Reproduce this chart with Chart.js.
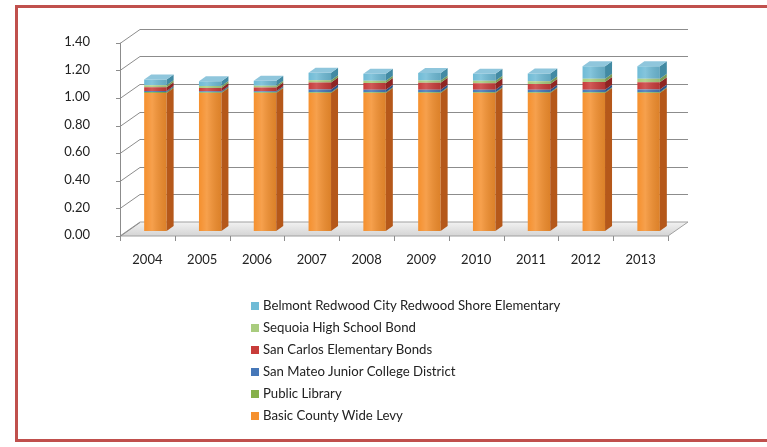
<!DOCTYPE html>
<html>
<head>
<meta charset="utf-8">
<script src="https://cdn.jsdelivr.net/npm/chart.js@4.4.1/dist/chart.umd.min.js"></script>
<style>
  html, body { margin: 0; padding: 0; background: #fff; }
  body { width: 767px; height: 447px; position: relative; overflow: hidden; font-family: Lato, "Liberation Sans", sans-serif; }
  #frame { position: absolute; left: 15px; top: 5px; width: 800px; height: 437px; border: 3px solid #c0504d; box-sizing: border-box; }
  #chart { position: absolute; left: 0; top: 0; }
  #legend { position: absolute; left: 251px; top: 296px; font-size: 13.2px; color: #222; }
  #legend div { height: 22px; line-height: 18px; white-space: nowrap; }
  #legend span { display: inline-block; width: 8px; height: 8px; margin-right: 4px; vertical-align: 0px; }
</style>
</head>
<body>
<div id="frame"></div>
<canvas id="chart" width="767" height="447"></canvas>
<div id="legend"></div>
<script>
const years = ['2004', '2005', '2006', '2007', '2008', '2009', '2010', '2011', '2012', '2013'];
const basicLevy      = [1.00, 1.00, 1.00, 1.00, 1.00, 1.00, 1.00, 1.00, 1.00, 1.00];
const publicLibrary  = [0.007, 0.006, 0.006, 0.006, 0.006, 0.006, 0.006, 0.006, 0.006, 0.006];
const sanMateoJC     = [0.007, 0.006, 0.007, 0.020, 0.018, 0.018, 0.018, 0.018, 0.018, 0.020];
const sanCarlosBonds = [0.028, 0.025, 0.026, 0.050, 0.048, 0.050, 0.046, 0.042, 0.055, 0.052];
const sequoiaBond    = [0.014, 0.013, 0.013, 0.016, 0.016, 0.016, 0.018, 0.020, 0.025, 0.025];
const belmontRedwood = [0.042, 0.036, 0.037, 0.055, 0.052, 0.055, 0.052, 0.055, 0.090, 0.090];

const seriesNames = [
  'Basic County Wide Levy',
  'Public Library',
  'San Mateo Junior College District',
  'San Carlos Elementary Bonds',
  'Sequoia High School Bond',
  'Belmont Redwood City Redwood Shore Elementary'
];
const seriesValues = [basicLevy, publicLibrary, sanMateoJC, sanCarlosBonds, sequoiaBond, belmontRedwood];

const faceColors = ['#f5902e', '#86b04a', '#4677b8', '#c83c3a', '#a9cc7e', '#6fbbd6'];
const sideColors = ['#b5581a', '#5d7f2e', '#2c5489', '#8e2523', '#7b9a55', '#428aa3'];
const topColors  = ['#fbb36c', '#a7cb75', '#7aa3d6', '#de7472', '#c6e0a5', '#8fc6dc'];

// 3D offsets relative to the plane the bars sit in
const FRONT = { dx: -8, dy: 5 };
const BACK = { dx: 12, dy: -9 };
const BAR_DEPTH = { dx: 7, dy: -5 };

const excel3d = {
  id: 'excel3d',
  beforeDatasetsDraw(chart) {
    const ctx = chart.ctx;
    const { left, right, bottom } = chart.chartArea;
    const y = chart.scales.y;
    ctx.save();
    // floor
    const g = ctx.createLinearGradient(0, bottom + BACK.dy, 0, bottom + FRONT.dy);
    g.addColorStop(0, '#f2f2f2');
    g.addColorStop(1, '#d4d4d4');
    ctx.fillStyle = g;
    ctx.strokeStyle = '#a0a0a0';
    ctx.lineWidth = 1;
    ctx.beginPath();
    ctx.moveTo(left + FRONT.dx, bottom + FRONT.dy);
    ctx.lineTo(right + FRONT.dx, bottom + FRONT.dy);
    ctx.lineTo(right + BACK.dx, bottom + BACK.dy);
    ctx.lineTo(left + BACK.dx, bottom + BACK.dy);
    ctx.closePath();
    ctx.fill();
    ctx.stroke();
    // grid on back wall and side
    ctx.strokeStyle = '#8c8c8c';
    y.ticks.forEach(t => {
      const py = Math.round(y.getPixelForValue(t.value)) + 0.5;
      ctx.beginPath();
      if (t.value > 0) {
        ctx.moveTo(left + BACK.dx, py + BACK.dy);
        ctx.lineTo(right + BACK.dx, py + BACK.dy);
      }
      ctx.moveTo(left + FRONT.dx, py + FRONT.dy);
      ctx.lineTo(left + BACK.dx, py + BACK.dy);
      ctx.moveTo(left + FRONT.dx - 4, py + FRONT.dy);
      ctx.lineTo(left + FRONT.dx, py + FRONT.dy);
      ctx.stroke();
    });
    // front value axis
    const x0 = Math.round(left + FRONT.dx) + 0.5;
    ctx.beginPath();
    ctx.moveTo(x0, y.getPixelForValue(0) + FRONT.dy);
    ctx.lineTo(x0, y.getPixelForValue(y.max) + FRONT.dy);
    ctx.stroke();
    // category tick marks
    const n = chart.data.labels.length;
    ctx.beginPath();
    for (let i = 0; i <= n; i++) {
      const px = Math.round(left + FRONT.dx + i * (right - left) / n) + 0.5;
      ctx.moveTo(px, bottom + FRONT.dy);
      ctx.lineTo(px, bottom + FRONT.dy + 5);
    }
    ctx.stroke();
    ctx.restore();
  },
  afterDatasetsDraw(chart) {
    const ctx = chart.ctx;
    const last = chart.data.datasets.length - 1;
    ctx.save();
    chart.data.datasets.forEach((ds, i) => {
      chart.getDatasetMeta(i).data.forEach(el => {
        const { x, y, base, width } = el.getProps(['x', 'y', 'base', 'width'], true);
        const x1 = x - width / 2, x2 = x + width / 2;
        // shading on the front face
        const sh = ctx.createLinearGradient(x1, 0, x2, 0);
        sh.addColorStop(0, 'rgba(255,255,255,0.0)');
        sh.addColorStop(0.35, 'rgba(255,255,255,0.15)');
        sh.addColorStop(1, 'rgba(0,0,0,0.10)');
        ctx.fillStyle = sh;
        ctx.fillRect(x1, y, width, base - y);
        // side face
        ctx.fillStyle = sideColors[i];
        ctx.beginPath();
        ctx.moveTo(x2, y);
        ctx.lineTo(x2 + BAR_DEPTH.dx, y + BAR_DEPTH.dy);
        ctx.lineTo(x2 + BAR_DEPTH.dx, base + BAR_DEPTH.dy);
        ctx.lineTo(x2, base);
        ctx.closePath();
        ctx.fill();
        if (i === last) {
          ctx.fillStyle = topColors[i];
          ctx.beginPath();
          ctx.moveTo(x1, y);
          ctx.lineTo(x2, y);
          ctx.lineTo(x2 + BAR_DEPTH.dx, y + BAR_DEPTH.dy);
          ctx.lineTo(x1 + BAR_DEPTH.dx, y + BAR_DEPTH.dy);
          ctx.closePath();
          ctx.fill();
        }
      });
    });
    ctx.restore();
  }
};

const chart = new Chart(document.getElementById('chart'), {
  type: 'bar',
  data: {
    labels: years,
    datasets: seriesNames.map((name, i) => ({
      label: name,
      data: seriesValues[i],
      backgroundColor: faceColors[i],
      borderWidth: 0,
      categoryPercentage: 1,
      barPercentage: 0.41
    }))
  },
  options: {
    responsive: false,
    animation: false,
    layout: { padding: { top: 34, left: 0, right: 91, bottom: 176 } },
    plugins: { legend: { display: false }, tooltip: { enabled: false } },
    scales: {
      x: {
        stacked: true,
        grid: { display: false },
        border: { display: false },
        ticks: { color: '#222', font: { family: 'Lato', size: 13 }, labelOffset: -8, padding: 13 },
        afterFit: s => { s.height = 40; }
      },
      y: {
        stacked: true,
        min: 0,
        max: 1.4,
        grid: { display: false },
        border: { display: false },
        ticks: {
          stepSize: 0.2,
          color: '#222',
          font: { family: 'Lato', size: 13 },
          padding: 30,
          labelOffset: 4,
          callback: v => v.toFixed(2)
        },
        afterFit: s => { s.width = 128; }
      }
    }
  },
  plugins: [excel3d]
});

// legend, top entry is the last series
const legend = document.getElementById('legend');
legend.innerHTML = chart.data.datasets.map((ds, i) => `
  <div><span style="background:${faceColors[i]}"></span>${ds.label}</div>
`).reverse().join('');
</script>
</body>
</html>
